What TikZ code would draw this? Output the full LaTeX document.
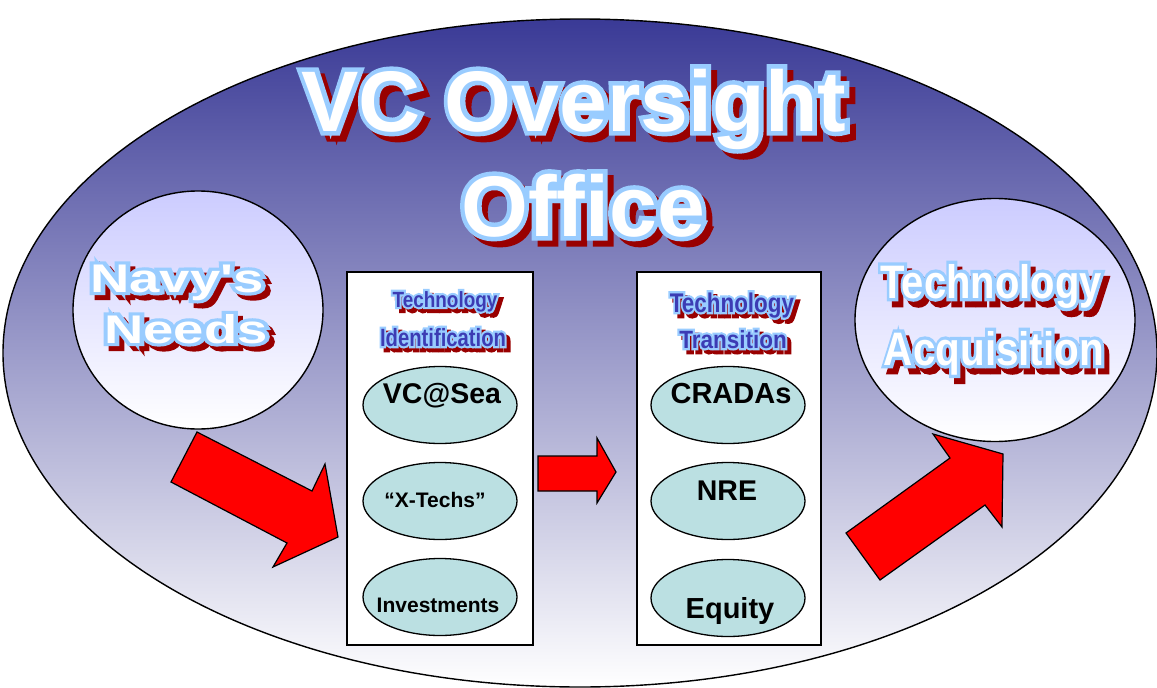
\documentclass[tikz,border=0pt]{standalone}
\usepackage{fontspec}
\setmainfont{Liberation Sans}
% headline face without TeX quote ligatures, so ' stays a straight apostrophe
\newfontfamily\hlfont{Liberation Sans}
\usepackage{graphicx}
\usetikzlibrary{shapes.geometric}

\definecolor{ovaltop}{RGB}{58,58,150}
\definecolor{bubtop}{RGB}{204,204,255}
\definecolor{pod}{RGB}{187,224,226}
\definecolor{waedge}{RGB}{153,204,255}
\definecolor{washadow}{RGB}{153,0,0}
\definecolor{wainner}{RGB}{60,60,180}
\definecolor{arrowred}{RGB}{255,0,0}

\tikzset{
  wabase/.style={anchor=base, inner sep=0pt, outer sep=0pt, font=\hlfont\bfseries},
  bubble/.style={draw=black, line width=1.4pt, ellipse, top color=bubtop, bottom color=white, inner sep=0pt},
  stagebox/.style={draw=black, line width=1.2pt, fill=white, rectangle, inner sep=0pt},
  pod/.style={draw=black, line width=1.3pt, fill=pod, ellipse, inner sep=0pt, minimum width=154, minimum height=77},
  podtext/.style={anchor=base, inner sep=0pt, font=\bfseries},
  blockarrow/.style={draw=black, line width=1.2pt, fill=arrowred, line join=miter},
}

% Outlined, shadowed headline text (stroked glyphs for the rim and the shadow):
% #1 name, #2 base point, #3 font size, #4 horizontal stretch, #5 text,
% #6 fill colour, #7 stroke amount, #8 shadow shift
\newcommand\headline[8]{%
  \node[wabase, text=washadow, shift={(#8)}] (#1-shadow) at (#2)
    {\fontsize{#3}{#3}\selectfont\addfontfeatures{FakeBold=#7}\scalebox{#4}[1]{#5}};
  \node[wabase, text=waedge] (#1-rim) at (#2)
    {\fontsize{#3}{#3}\selectfont\addfontfeatures{FakeBold=#7}\scalebox{#4}[1]{#5}};
  \node[wabase, text=#6] (#1) at (#2)
    {\fontsize{#3}{#3}\selectfont\scalebox{#4}[1]{#5}};}

\begin{document}
\begin{tikzpicture}[x=1pt, y=-1pt]
\useasboundingbox[fill=white] (0,0) rectangle (1157,688);

% outer office oval
\node[draw=black, line width=1.4pt, ellipse, top color=ovaltop, bottom color=white,
      minimum width=1154, minimum height=668, inner sep=0pt] (office) at (580,353) {};

% side bubbles
\node[bubble, minimum width=250, minimum height=238] (needs) at (198,310) {};
\node[bubble, minimum width=280, minimum height=243] (acq) at (995,320) {};

% stage boxes
\node[stagebox, minimum width=186, minimum height=373] (ident) at (440,458.5) {};
\node[stagebox, minimum width=184, minimum height=373] (trans) at (729,458.5) {};

% items of each stage
\node[pod] (vcsea) at (440,405) {};
\node[pod] (xtech) at (440,501) {};
\node[pod] (invest) at (440,597) {};
\node[pod] (cradas) at (728,405) {};
\node[pod] (nre) at (728,501) {};
\node[pod] (equity) at (728,598) {};

\node[podtext, font=\bfseries\fontsize{28.5}{30}\selectfont] (tvcsea) at (442,403) {VC@Sea};
\node[podtext, font=\bfseries\fontsize{21}{23}\selectfont] (txtech) at (435,507) {“X-Techs”};
\node[podtext, font=\bfseries\fontsize{21}{23}\selectfont] (tinvest) at (438,612) {Investments};
\node[podtext, font=\bfseries\fontsize{29}{31}\selectfont] (tcradas) at (731,403) {CRADAs};
\node[podtext, font=\bfseries\fontsize{28.5}{30}\selectfont] (tnre) at (727,500) {NRE};
\node[podtext, font=\bfseries\fontsize{29}{31}\selectfont] (tequity) at (730,618) {Equity};

% block arrows
\draw[blockarrow] (197,432) -- (312,491) -- (325,464) -- (338,537) -- (273,567)
      -- (287,543) -- (171,482) -- cycle;
\draw[blockarrow] (538,456) -- (597,456) -- (597,438) -- (616,472) -- (597,503)
      -- (597,491) -- (538,491) -- cycle;
\draw[blockarrow] (933,434) -- (1003,454) -- (1002,527) -- (985,505) -- (880,580)
      -- (846,533) -- (950,458) -- cycle;

% headlines
\headline{titleA}{574,131}{86}{1}{VC Oversight}{white}{10.5}{6,6}
\headline{titleB}{583,236}{86}{1}{Office}{white}{10.5}{6,6}

\headline{needsA}{177,292}{40}{1.36}{Navy's}{white}{16}{5,5}
\headline{needsB}{186,343}{40}{1.36}{Needs}{white}{16}{5,5}

\headline{acqA}{991,298}{47}{0.85}{Technology}{white}{14}{5,6}
\headline{acqB}{994,365}{47}{0.86}{Acquisition}{white}{14}{5,6}

\headline{identA}{445,307}{22}{0.86}{Technology}{wainner}{20}{4,4}
\headline{identB}{443,346}{25}{0.81}{Identification}{wainner}{18}{4,4}

\headline{transA}{732,312}{27}{0.83}{Technology}{wainner}{17}{4,4}
\headline{transB}{733,348}{25}{0.9}{Transition}{wainner}{18}{4,4}
\end{tikzpicture}
\end{document}
